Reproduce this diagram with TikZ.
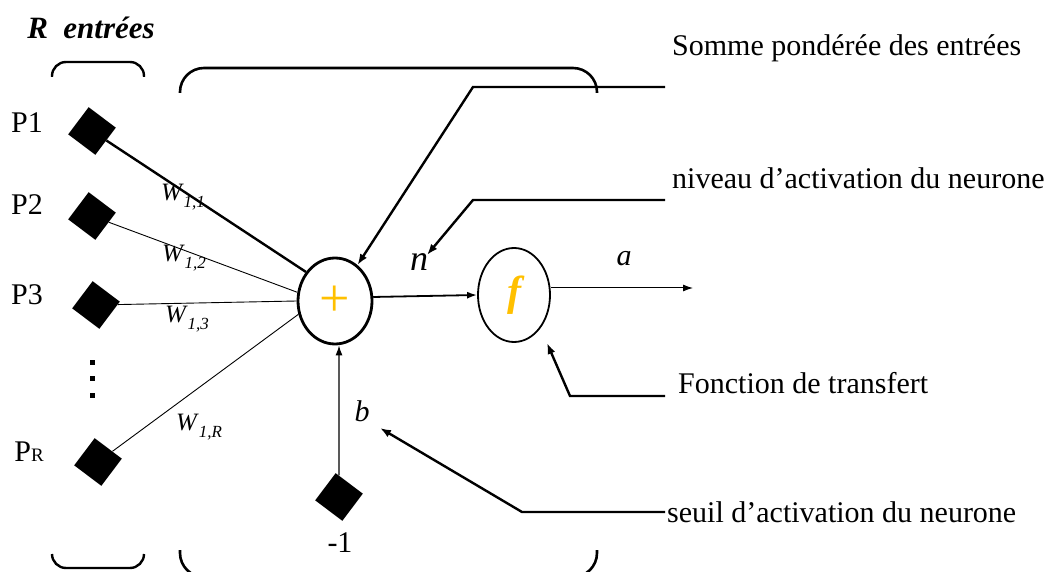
\documentclass[tikz,border=0pt]{standalone}
\usepackage{fontspec}
\setmainfont{Liberation Serif}
\usetikzlibrary{arrows.meta,shapes.geometric}
\definecolor{gold}{HTML}{FFC000}
% weight label: italic W with italic subscript
\newcommand\wlab[1]{\textit{W}\raisebox{-0.28em}{\fontsize{17}{17}\selectfont\textit{#1}}}
\begin{document}
\begin{tikzpicture}[x=1pt,y=-1pt,
  txt/.style={inner sep=0pt, font=\fontsize{30}{36}\selectfont},
  wtxt/.style={inner sep=0pt, font=\fontsize{25}{28}\selectfont},
  inbox/.style={rectangle, fill=black, minimum size=34pt, inner sep=0pt, rotate=53},
  brk/.style={line width=2.4pt, rounded corners=14pt},
  bigbrk/.style={line width=2.6pt, rounded corners=24pt},
  lead/.style={line width=2.4pt, -{Latex[length=11pt,width=8pt]}},
  wire/.style={line width=0.9pt},
  arr/.style={-{Latex[length=10pt,width=7pt]}},
]
\clip (0,0) rectangle (1053,572);
\fill[white] (0,0) rectangle (1053,572);

% input, bias and processing nodes
\node[inbox] (p1) at (92,131) {};
\node[inbox] (p2) at (92,216) {};
\node[inbox] (p3) at (96,305) {};
\node[inbox] (pr) at (98,462) {};
\node[inbox] (bias) at (339,497) {};
\node[ellipse, draw, line width=2.8pt, minimum width=74pt, minimum height=86pt, inner sep=0pt,
      font=\fontsize{54}{54}\selectfont, text=gold] (sum) at (335,301) {+};
\node[ellipse, draw, line width=1.8pt, minimum width=72pt, minimum height=94pt, inner sep=0pt,
      font=\fontsize{42}{42}\selectfont\bfseries\itshape, text=gold] (f) at (514,295) {f};

% input labels
\node[txt] (l1) at (27,123) {P1};
\node[txt] (l2) at (27,205) {P2};
\node[txt] (l3) at (27,295) {P3};
\node[txt] (lr) at (29,452) {P{\fontsize{19}{20}\selectfont R}};
\node[txt, font=\fontsize{31}{36}\selectfont\bfseries\itshape] (rin) at (91,28) {R\ \ entrées};
\foreach \yy in {362,378,395} \fill (89.5,\yy-2.5) rectangle ++(5,5);

% weights
\node[wtxt] (w1) at (183,197) {\wlab{1,1}};
\node[wtxt] (w2) at (184,258) {\wlab{1,2}};
\node[wtxt] (w3) at (187,319) {\wlab{1,3}};
\node[wtxt] (wr) at (199,427) {\wlab{1,R}};

% other labels
\node[txt, font=\fontsize{36}{36}\selectfont\itshape] (n) at (419,262) {n};
\node[txt, font=\fontsize{30}{36}\selectfont\itshape] (a) at (624,259) {a};
\node[txt, font=\fontsize{30}{36}\selectfont\itshape] (b) at (362,411) {b};
\node[txt] (m1) at (340,543) {-1};

% descriptions
\node[txt, anchor=base west] (d1) at (672,56) {Somme pondérée des entrées};
\node[txt, anchor=base west] (d2) at (672,189) {niveau d’activation du neurone};
\node[txt, anchor=base west] (d3) at (678,393) {Fonction de transfert};
\node[txt, anchor=base west] (d4) at (667,522) {seuil d’activation du neurone};

% brackets
\draw[brk] (52,77) -- (52,62) -- (144,62) -- (144,77);
\draw[brk] (52,554) -- (52,568) -- (144,568) -- (144,554);
\draw[bigbrk] (180,93) -- (180,68) -- (597,68) -- (597,93);
\draw[bigbrk] (180,550) -- (180,577) -- (597,577) -- (597,550);

% weighted inputs
\draw[line width=2.4pt] (p1) -- (sum.135);
\draw[wire] (p2) -- (sum.167);
\draw[wire] (p3) -- (sum.west);
\draw[wire] (pr) -- (sum.200);

% signal flow
\coordinate (out) at (693,288);
\draw[line width=1.8pt, arr] (sum.6) -- (f.west);
\draw[line width=1pt, arr] (f.east |- out) -- (out);
\draw[line width=1.2pt, arr] (bias) -- (bias |- sum.south);

% leaders from the descriptions
\coordinate (s1) at (665,87);  \coordinate (c1) at (473,87);
\coordinate (s2) at (665,200); \coordinate (c2) at (473,200); \coordinate (t2) at (427,255);
\coordinate (s3) at (665,396); \coordinate (c3) at (570,396); \coordinate (t3) at (547,343);
\coordinate (s4) at (665,512); \coordinate (c4) at (522,512); \coordinate (t4) at (380,428);
\draw[lead] (s1) -- (c1) -- (sum.58);
\draw[lead] (s2) -- (c2) -- (t2);
\draw[lead] (s3) -- (c3) -- (t3);
\draw[lead] (s4) -- (c4) -- (t4);
\end{tikzpicture}
\end{document}
